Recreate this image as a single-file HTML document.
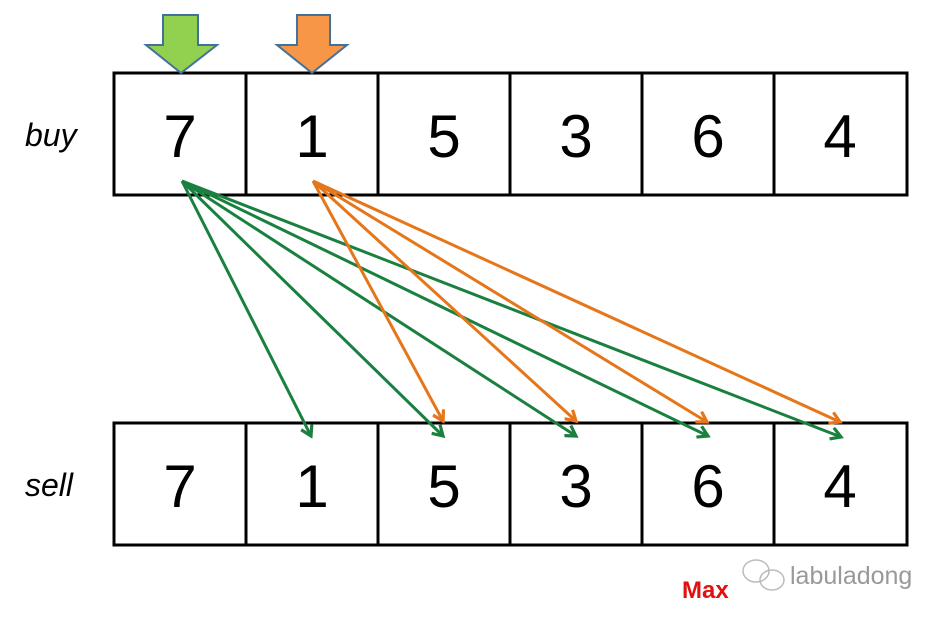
<!DOCTYPE html>
<html><head><style>
body{margin:0;background:#fff;width:941px;height:619px;overflow:hidden}
</style></head><body>
<svg width="941" height="619" xmlns="http://www.w3.org/2000/svg">
<defs>
<marker id="g" markerWidth="14" markerHeight="14" refX="11" refY="7" orient="auto" markerUnits="userSpaceOnUse" viewBox="0 0 14 14"><path d="M1,1 L11,7 L1,13" fill="none" stroke="#1a8040" stroke-width="3.2"/></marker>
<marker id="o" markerWidth="14" markerHeight="14" refX="11" refY="7" orient="auto" markerUnits="userSpaceOnUse" viewBox="0 0 14 14"><path d="M1,1 L11,7 L1,13" fill="none" stroke="#e6761a" stroke-width="3.2"/></marker>
</defs>
<g fill="none" stroke="#000" stroke-width="3">
<rect x="114" y="73" width="793" height="122"/>
<rect x="114" y="423" width="793" height="122"/>
<path d="M246,73V195M378,73V195M510,73V195M642,73V195M774,73V195M246,423V545M378,423V545M510,423V545M642,423V545M774,423V545"/>
</g>
<g font-family="Liberation Sans, sans-serif" font-size="60" text-anchor="middle" fill="#000">
<text x="180" y="157">7</text><text x="312" y="157">1</text><text x="444" y="157">5</text><text x="576" y="157">3</text><text x="708" y="157">6</text><text x="840" y="157">4</text>
<text x="180" y="507">7</text><text x="312" y="507">1</text><text x="444" y="507">5</text><text x="576" y="507">3</text><text x="708" y="507">6</text><text x="840" y="507">4</text>
</g>
<g font-family="Liberation Sans, sans-serif" font-size="32" font-style="italic" fill="#000">
<text x="25" y="146">buy</text><text x="25" y="496">sell</text>
</g>
<polygon points="163,15 198,15 198,45 217,45 181,73 146,45 163,45" fill="#92d050" stroke="#41719c" stroke-width="2"/>
<polygon points="297,15 330,15 330,45 347,45 312,73 277,45 297,45" fill="#f79646" stroke="#41719c" stroke-width="2"/>
<g stroke="#1a8040" stroke-width="3" marker-end="url(#g)">
<line x1="182" y1="181" x2="311" y2="436"/>
<line x1="182" y1="181" x2="443" y2="436"/>
<line x1="182" y1="181" x2="576" y2="436"/>
<line x1="182" y1="181" x2="708" y2="436"/>
<line x1="182" y1="181" x2="841" y2="437"/>
</g>
<g stroke="#e6761a" stroke-width="3" marker-end="url(#o)">
<line x1="313" y1="181" x2="443" y2="421"/>
<line x1="313" y1="181" x2="576" y2="421"/>
<line x1="313" y1="181" x2="707" y2="422"/>
<line x1="313" y1="181" x2="840" y2="422"/>
</g>
<text x="682" y="598" font-family="Liberation Sans, sans-serif" font-size="24" font-weight="bold" fill="#e31010">Max</text>
<g fill="none" stroke="#bbb" stroke-width="1.5">
<ellipse cx="756" cy="571" rx="13" ry="11"/><ellipse cx="772" cy="580" rx="12" ry="10"/>
</g>
<text x="790" y="584" font-family="Liberation Sans, sans-serif" font-size="25" fill="#999">labuladong</text>
</svg>
</body></html>
